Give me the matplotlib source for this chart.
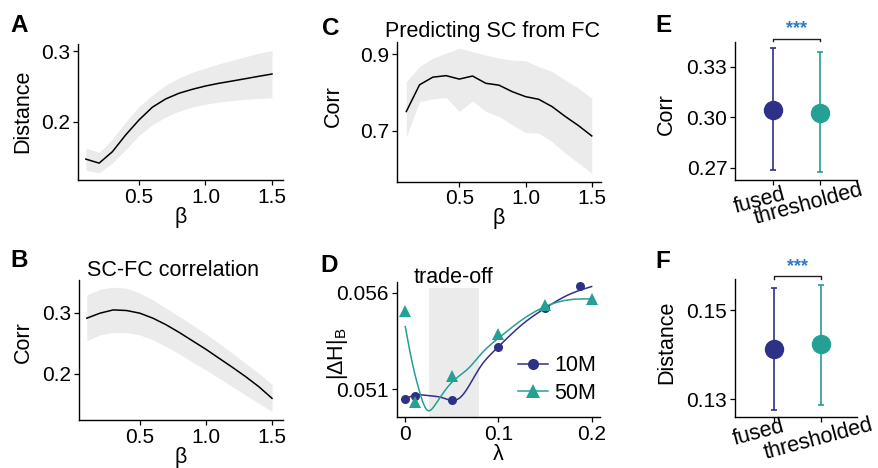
import numpy as np
import matplotlib
matplotlib.use("Agg")
import matplotlib.pyplot as plt
import matplotlib.transforms as mtransforms
from matplotlib.lines import Line2D

plt.rcParams['font.family'] = ['Liberation Sans', 'DejaVu Sans']
plt.rcParams['mathtext.fontset'] = 'custom'
plt.rcParams['mathtext.rm'] = 'Liberation Sans'
plt.rcParams['mathtext.it'] = 'Liberation Sans:italic'

# ---------------- data ----------------
beta = [0.1, 0.2, 0.3, 0.4, 0.5, 0.6, 0.7, 0.8, 0.9, 1.0, 1.1, 1.2, 1.3, 1.4, 1.5]

# Panel A: distance vs beta
dist_mean = [0.1475, 0.1418, 0.158, 0.1817, 0.2028, 0.2207, 0.2324, 0.2404, 0.246, 0.2507,
             0.2545, 0.2577, 0.261, 0.2644, 0.2676]
dist_hi = [0.163, 0.157, 0.176, 0.200, 0.222, 0.238, 0.252, 0.262, 0.270, 0.276,
           0.282, 0.287, 0.292, 0.297, 0.301]
dist_lo = [0.132, 0.128, 0.142, 0.161, 0.181, 0.196, 0.207, 0.215, 0.221, 0.225,
           0.228, 0.230, 0.232, 0.233, 0.234]

# Panel B: SC-FC correlation vs beta
scfc_mean = [0.2908, 0.299, 0.3043, 0.3033, 0.299, 0.2908, 0.28, 0.2674, 0.2538, 0.2402,
             0.2255, 0.2109, 0.1957, 0.1793, 0.1603]
scfc_hi = [0.3288, 0.338, 0.3413, 0.3397, 0.3315, 0.3207, 0.307, 0.2935, 0.2799, 0.2652,
           0.25, 0.2337, 0.2174, 0.201, 0.1832]
scfc_lo = [0.2538, 0.2636, 0.2674, 0.2674, 0.2636, 0.2554, 0.2446, 0.2326, 0.219, 0.2065,
           0.1929, 0.1793, 0.1658, 0.1522, 0.1386]

# Panel C: predicting SC from FC
pred_mean = [0.750, 0.820, 0.840, 0.844, 0.835, 0.843, 0.824, 0.819, 0.802, 0.789,
             0.782, 0.763, 0.737, 0.713, 0.686]
pred_hi = [0.828, 0.868, 0.890, 0.903, 0.916, 0.907, 0.898, 0.890, 0.885, 0.883,
           0.868, 0.855, 0.833, 0.811, 0.785]
pred_lo = [0.684, 0.776, 0.783, 0.787, 0.750, 0.778, 0.750, 0.737, 0.715, 0.695,
           0.693, 0.671, 0.641, 0.615, 0.588]

# Panel D: |dH|_B vs lambda
lam_10M = [0, 0.01, 0.05, 0.1, 0.15, 0.188]
h_10M = [0.05048, 0.05067, 0.05043, 0.05320, 0.05522, 0.05634]
lam_50M = [0, 0.01, 0.05, 0.1, 0.15, 0.2]
h_50M = [0.05506, 0.05033, 0.05169, 0.05384, 0.05536, 0.05565]
# smooth fits
fit_lam_10M = [0, 0.01, 0.025, 0.04, 0.05, 0.06, 0.071, 0.082, 0.091, 0.1, 0.125, 0.15, 0.175, 0.2]
fit_h_10M = [0.0505, 0.05069, 0.05067, 0.05056, 0.05042, 0.05062, 0.05139, 0.05226, 0.05277,
             0.0532, 0.05433, 0.05519, 0.05588, 0.05631]
fit_lam_50M = [0, 0.0072, 0.0143, 0.0233, 0.032, 0.043, 0.05, 0.068, 0.082, 0.1, 0.125, 0.15, 0.175, 0.2]
fit_h_50M = [0.05424, 0.05243, 0.05105, 0.04993, 0.05019, 0.05096, 0.05136, 0.05209, 0.05286,
             0.05364, 0.05458, 0.05527, 0.05562, 0.05567]
tradeoff_range = [0.0255, 0.079]
tradeoff_top = 0.05625
legend_labels = ["10M", "50M"]

# Panels E and F
methods = ["fused", "thresholded"]
corr_mean = [0.3046, 0.3026]
corr_lo = [0.2686, 0.2676]
corr_hi = [0.3409, 0.3386]
distE_mean = [0.14127, 0.14232]
distE_lo = [0.1276, 0.1287]
distE_hi = [0.15486, 0.1556]
sig_label = "***"

NAVY = '#2E3188'
TEAL = '#24A095'
BAND = '#EBEBEB'
STAR = '#2B7BC6'

W, H = 879, 468
fig = plt.figure(figsize=(W / 100, H / 100), dpi=100)

TICK = 15
LAB = 15.5


def add_ax(l, r, t, b):
    return fig.add_axes([l / W, 1 - b / H, (r - l) / W, (b - t) / H])


def style(ax):
    for s in ['top', 'right']:
        ax.spines[s].set_visible(False)
    for s in ['left', 'bottom']:
        ax.spines[s].set_linewidth(1.0)
    ax.tick_params(length=3.5, width=0.9, labelsize=TICK, pad=2, colors='black')


def natural_cubic(x, y, xs):
    x = np.asarray(x, float); y = np.asarray(y, float); xs = np.asarray(xs, float)
    n = len(x); h = np.diff(x)
    A = np.zeros((n, n)); r = np.zeros(n)
    A[0, 0] = A[-1, -1] = 1
    for i in range(1, n - 1):
        A[i, i - 1] = h[i - 1]; A[i, i] = 2 * (h[i - 1] + h[i]); A[i, i + 1] = h[i]
        r[i] = 3 * ((y[i + 1] - y[i]) / h[i] - (y[i] - y[i - 1]) / h[i - 1])
    c = np.linalg.solve(A, r)
    b = (y[1:] - y[:-1]) / h - h * (2 * c[:-1] + c[1:]) / 3
    d = (c[1:] - c[:-1]) / (3 * h)
    idx = np.clip(np.searchsorted(x, xs) - 1, 0, n - 2)
    dx = xs - x[idx]
    return y[idx] + b[idx] * dx + c[idx] * dx ** 2 + d[idx] * dx ** 3


def ylabel_at(ax, text, xpx, ypx):
    fig.text(xpx / W, 1 - ypx / H, text, rotation=90, ha='center', va='center', fontsize=LAB)


def letter(text, xpx, ypx):
    fig.text(xpx / W, 1 - ypx / H, text, fontsize=17.5, fontweight='bold', ha='left', va='baseline')


# ---------------- Panel A ----------------
axA = add_ax(78, 283, 44, 180)
axA.fill_between(beta, dist_lo, dist_hi, color=BAND, lw=0)
axA.plot(beta, dist_mean, color='black', lw=1.1)
axA.set_xlim(0.041, 1.583); axA.set_ylim(0.118, 0.31)
axA.set_xticks([0.5, 1.0, 1.5]); axA.set_xticklabels(['0.5', '1.0', '1.5'])
axA.set_yticks([0.2, 0.3]); axA.set_yticklabels(['0.2', '0.3'])
style(axA)
axA.set_xlabel('β', fontsize=LAB, labelpad=0)
ylabel_at(axA, 'Distance', 23, 111)
letter('A', 10, 32)

# ---------------- Panel B ----------------
axB = add_ax(79, 283, 280, 420)
axB.fill_between(beta, scfc_lo, scfc_hi, color=BAND, lw=0)
axB.plot(beta, scfc_mean, color='black', lw=1.1)
axB.set_xlim(0.041, 1.583); axB.set_ylim(0.125, 0.353)
axB.set_xticks([0.5, 1.0, 1.5]); axB.set_xticklabels(['0.5', '1.0', '1.5'])
axB.set_yticks([0.2, 0.3]); axB.set_yticklabels(['0.2', '0.3'])
style(axB)
axB.set_xlabel('β', fontsize=LAB, labelpad=0)
ylabel_at(axB, 'Corr', 23, 342.5)
fig.text(173 / W, 1 - 276 / H, 'SC-FC correlation', fontsize=LAB, ha='center', va='baseline')
letter('B', 10, 267)

# ---------------- Panel C ----------------
axC = add_ax(397.3, 601, 41.7, 181.7)
axC.fill_between(beta, pred_lo, pred_hi, color=BAND, lw=0)
axC.plot(beta, pred_mean, color='black', lw=1.1)
axC.set_xlim(0.032, 1.57); axC.set_ylim(0.566, 0.933)
axC.set_xticks([0.5, 1.0, 1.5]); axC.set_xticklabels(['0.5', '1.0', '1.5'])
axC.set_yticks([0.7, 0.9]); axC.set_yticklabels(['0.7', '0.9'])
style(axC)
axC.set_xlabel('β', fontsize=LAB, labelpad=0)
ylabel_at(axC, 'Corr', 333, 105.8)
fig.text(492.7 / W, 1 - 37 / H, 'Predicting SC from FC', fontsize=LAB, ha='center', va='baseline')
letter('C', 322, 35)

# ---------------- Panel D ----------------
axD = add_ax(396.7, 600, 281.7, 417.3)
axD.set_xlim(-0.0092, 0.209); axD.set_ylim(0.04955, 0.05656)
axD.fill_between(tradeoff_range, [0.04955, 0.04955], [tradeoff_top, tradeoff_top], color=BAND, lw=0)
xs10 = np.linspace(fit_lam_10M[0], fit_lam_10M[-1], 300)
xs50 = np.linspace(fit_lam_50M[0], fit_lam_50M[-1], 300)
axD.plot(xs10, natural_cubic(fit_lam_10M, fit_h_10M, xs10), color=NAVY, lw=1.1)
axD.plot(xs50, natural_cubic(fit_lam_50M, fit_h_50M, xs50), color=TEAL, lw=1.1)
axD.plot(lam_10M, h_10M, 'o', color=NAVY, ms=6.5, mew=0, clip_on=False)
axD.plot(lam_50M, h_50M, '^', color=TEAL, ms=8, mew=0, clip_on=False)
axD.set_xticks([0, 0.1, 0.2]); axD.set_xticklabels(['0', '0.1', '0.2'])
axD.set_yticks([0.051, 0.056]); axD.set_yticklabels(['0.051', '0.056'])
style(axD)
axD.set_xlabel('λ', fontsize=LAB, labelpad=0)
ylabel_at(axD, r'$\mathrm{|\Delta H|_B}$', 338, 353.3)
axD.text(np.mean(tradeoff_range), tradeoff_top, 'trade-off', fontsize=LAB, ha='center', va='bottom')
handles = [Line2D([], [], color=NAVY, lw=1.1, marker='o', ms=8, mew=0),
           Line2D([], [], color=TEAL, lw=1.1, marker='^', ms=10, mew=0)]
axD.legend(handles, legend_labels, loc='center left', bbox_to_anchor=(0.595, 0.279),
           frameon=False, fontsize=LAB, handlelength=1.4, handletextpad=0.3,
           labelspacing=0.3, borderpad=0, borderaxespad=0)
letter('D', 320, 272)


# ---------------- Panels E / F ----------------
def dot_panel(ax, means, lo, hi, xlim, ylim, yticks, ylabels, lab_off):
    cols = [NAVY, TEAL]
    xpos = np.arange(1, len(methods) + 1)
    for i, x in enumerate(xpos):
        ax.errorbar([x], [means[i]], yerr=[[means[i] - lo[i]], [hi[i] - means[i]]], fmt='none',
                    ecolor=cols[i], elinewidth=1.2, capsize=2.5, capthick=1.2, clip_on=False)
        ax.plot([x], [means[i]], 'o', color=cols[i], ms=14, mew=0, clip_on=False, zorder=3)
    ax.set_xlim(*xlim); ax.set_ylim(*ylim)
    ax.set_yticks(yticks); ax.set_yticklabels(ylabels)
    ax.set_xticks(xpos); ax.set_xticklabels([''] * len(xpos))
    style(ax)
    for i, x in enumerate(xpos):
        dx, dy = lab_off[i]
        tr = ax.get_xaxis_transform() + mtransforms.ScaledTranslation(dx / 100, -dy / 100, fig.dpi_scale_trans)
        ax.text(x, 0, methods[i], transform=tr, rotation=15, ha='center', va='center',
                rotation_mode='anchor', fontsize=TICK + 0.5)
    # significance bracket
    ah = ax.bbox.height
    yb = 1 + 3 / ah
    ytk = 1 + 0.5 / ah
    trb = ax.get_xaxis_transform()
    ax.plot([xpos[0], xpos[0], xpos[1], xpos[1]], [ytk, yb, yb, ytk], color='#231F20', lw=1.0,
            transform=trb, clip_on=False)
    ax.text(np.mean(xpos), yb + 1.5 / ah, sig_label, transform=trb, ha='center', va='bottom',
            color=STAR, fontsize=13, fontweight='bold')


axE = add_ax(735, 856.7, 41.7, 180)
dot_panel(axE, corr_mean, corr_lo, corr_hi, (0.18, 2.79), (0.2627, 0.3449),
          [0.27, 0.30, 0.33], ['0.27', '0.30', '0.33'], [(-13, 21), (-11, 24)])
ylabel_at(axE, 'Corr', 666.7, 114)
letter('E', 655, 32)

axF = add_ax(735, 857.3, 279.3, 416.7)
dot_panel(axF, distE_mean, distE_lo, distE_hi, (0.158, 2.78), (0.1261, 0.1569),
          [0.13, 0.15], ['0.13', '0.15'], [(-16, 16), (-3, 22)])
ylabel_at(axF, 'Distance', 667, 342.5)
letter('F', 655, 268)

fig.savefig('out.png', dpi=100)
